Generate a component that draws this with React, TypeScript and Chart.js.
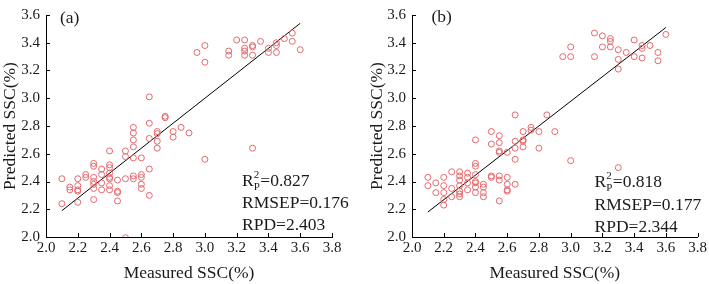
import React, { useEffect, useRef } from "react";
import { Chart, registerables } from "chart.js";

Chart.register(...registerables);

// ---------- data ----------
const xTicks = [2.0, 2.2, 2.4, 2.6, 2.8, 3.0, 3.2, 3.4, 3.6, 3.8];
const yTicks = [2.0, 2.2, 2.4, 2.6, 2.8, 3.0, 3.2, 3.4, 3.6];

const measuredA = [
  2.1, 2.1,
  2.15, 2.15,
  2.2, 2.2, 2.2, 2.2, 2.2,
  2.25, 2.25,
  2.3, 2.3, 2.3, 2.3, 2.3, 2.3, 2.3,
  2.35, 2.35, 2.35, 2.35,
  2.4, 2.4, 2.4, 2.4, 2.4, 2.4, 2.4, 2.4,
  2.45, 2.45, 2.45, 2.45,
  2.5, 2.5, 2.5, 2.5,
  2.55, 2.55, 2.55, 2.55, 2.55, 2.55, 2.55,
  2.6, 2.6, 2.6, 2.6, 2.6,
  2.65, 2.65, 2.65, 2.65, 2.65,
  2.7, 2.7, 2.7, 2.7,
  2.75, 2.75,
  2.8, 2.8,
  2.85,
  2.9,
  2.95,
  3.0, 3.0, 3.0,
  3.15, 3.15,
  3.2,
  3.25, 3.25, 3.25, 3.25,
  3.3, 3.3, 3.3, 3.3,
  3.35,
  3.4, 3.4,
  3.45, 3.45, 3.45,
  3.5,
  3.55, 3.55,
  3.6,
];
const predictedA = [
  2.42, 2.24,
  2.36, 2.34,
  2.42, 2.37, 2.34, 2.33, 2.25,
  2.45, 2.43,
  2.53, 2.51, 2.43, 2.4, 2.38, 2.35, 2.27,
  2.49, 2.45, 2.39, 2.34,
  2.62, 2.52, 2.5, 2.46, 2.43, 2.42, 2.37, 2.34,
  2.41, 2.33, 2.32, 2.26,
  2.62, 2.58, 2.42, 1.995,
  2.79, 2.75, 2.7, 2.65, 2.57, 2.44, 2.42,
  2.57, 2.45, 2.43, 2.38, 2.35,
  3.01, 2.82, 2.71, 2.49, 2.3,
  2.76, 2.745, 2.69, 2.64,
  2.87, 2.86,
  2.76, 2.72,
  2.79,
  2.75,
  3.33,
  3.38, 3.26, 2.56,
  3.34, 3.31,
  3.42,
  3.42, 3.36, 3.34, 3.31,
  3.38, 3.37, 3.31, 2.64,
  3.41,
  3.36, 3.33,
  3.4, 3.38, 3.33,
  3.43,
  3.47, 3.41,
  3.35,
];

const measuredB = [
  2.1, 2.1,
  2.15, 2.15,
  2.2, 2.2, 2.2, 2.2, 2.2,
  2.25, 2.25, 2.25,
  2.3, 2.3, 2.3, 2.3, 2.3, 2.3, 2.3,
  2.35, 2.35, 2.35, 2.35,
  2.4, 2.4, 2.4, 2.4, 2.4, 2.4, 2.4, 2.4,
  2.45, 2.45, 2.45, 2.45,
  2.5, 2.5, 2.5, 2.5,
  2.55, 2.55, 2.55, 2.55, 2.55, 2.55, 2.55,
  2.6, 2.6, 2.6, 2.6, 2.6,
  2.65, 2.65, 2.65, 2.65, 2.65,
  2.7, 2.7, 2.7, 2.7,
  2.75, 2.75,
  2.8, 2.8,
  2.85,
  2.9,
  2.95,
  3.0, 3.0, 3.0,
  3.15, 3.15,
  3.2, 3.2,
  3.25, 3.25, 3.25,
  3.3, 3.3, 3.3, 3.3,
  3.35,
  3.4, 3.4,
  3.45, 3.45, 3.45,
  3.5,
  3.55, 3.55,
  3.6,
];
const predictedB = [
  2.43, 2.37,
  2.39, 2.32,
  2.43, 2.37, 2.32, 2.27, 2.23,
  2.47, 2.35, 2.29,
  2.47, 2.44, 2.41, 2.37, 2.33, 2.31, 2.29,
  2.46, 2.43, 2.39, 2.34,
  2.7, 2.53, 2.51, 2.45, 2.4, 2.39, 2.36, 2.32,
  2.38, 2.36, 2.32, 2.29,
  2.76, 2.67, 2.44, 2.43,
  2.73, 2.68, 2.62, 2.61, 2.44, 2.41, 2.26,
  2.61, 2.43, 2.38, 2.34, 2.33,
  2.88, 2.69, 2.64, 2.56, 2.38,
  2.76, 2.7, 2.69, 2.65,
  2.79, 2.77,
  2.76, 2.64,
  2.88,
  2.76,
  3.3,
  3.37, 3.3, 2.55,
  3.47, 3.3,
  3.45, 3.37,
  3.43, 3.41, 3.37,
  3.35, 3.28, 3.21, 2.5,
  3.33,
  3.42, 3.3,
  3.38, 3.36, 3.29,
  3.38,
  3.33, 3.27,
  3.46,
];

const fitXA = [2.1, 3.6];
const fitYA = [2.19, 3.54];
const fitXB = [2.1, 3.6];
const fitYB = [2.18, 3.51];

const panelLabels = ["(a)", "(b)"];
const r2Values = ["0.827", "0.818"];
const rmsepValues = ["0.176", "0.177"];
const rpdValues = ["2.403", "2.344"];

const xTitle = "Measured SSC(%)";
const yTitle = "Predicted SSC(%)";

// ---------- styling ----------
const FONT = '"Times New Roman", "Liberation Serif", serif';
const POINT_COLOR = "rgb(228, 104, 108)";
const TEXT_COLOR = "#1a1a1a";

type Layout = {
  width: number;
  yWidth: number;
  padRight: number;
  yTitlePad: number;
  labelX: number;
  labelY: number;
  statsX: number;
  statsY: number[];
};

const layouts: Layout[] = [
  { width: 355, yWidth: 46, padRight: 23, yTitlePad: 0, labelX: 60, labelY: 18, statsX: 242, statsY: [186, 208, 230] },
  { width: 354, yWidth: 57, padRight: 11, yTitlePad: 11.5, labelX: 76.5, labelY: 17, statsX: 239.5, statsY: [187, 210, 232] },
];

function Panel(props: {
  idx: number;
  measured: number[];
  predicted: number[];
  fitX: number[];
  fitY: number[];
}) {
  const ref = useRef<HTMLCanvasElement | null>(null);
  const { idx, measured, predicted, fitX, fitY } = props;
  const lay = layouts[idx];

  useEffect(() => {
    if (!ref.current) return;

    const inwardTicks = {
      id: "inwardTicks" + idx,
      afterDatasetsDraw(chart: any) {
        const { ctx, chartArea } = chart;
        const x = chart.scales.x;
        const y = chart.scales.y;
        ctx.save();
        ctx.strokeStyle = "#000";
        ctx.lineWidth = 1;
        ctx.beginPath();
        xTicks.forEach((v) => {
          const px = Math.round(x.getPixelForValue(v)) + 0.5;
          ctx.moveTo(px, chartArea.bottom);
          ctx.lineTo(px, chartArea.bottom - 4);
        });
        yTicks.forEach((v) => {
          const py = Math.round(y.getPixelForValue(v)) + 0.5;
          ctx.moveTo(chartArea.left, py);
          ctx.lineTo(chartArea.left + 4, py);
        });
        ctx.stroke();
        ctx.restore();
      },
    };

    const annotations = {
      id: "annotations" + idx,
      afterDraw(chart: any) {
        const { ctx } = chart;
        ctx.save();
        ctx.fillStyle = TEXT_COLOR;
        ctx.textAlign = "left";
        ctx.font = `17.5px ${FONT}`;
        ctx.textBaseline = "middle";
        ctx.fillText(panelLabels[idx], lay.labelX, lay.labelY);

        ctx.textBaseline = "alphabetic";
        const sx = lay.statsX;
        const [b1, b2, b3] = lay.statsY;
        ctx.font = `17.5px ${FONT}`;
        ctx.fillText("R", sx, b1);
        const rw = ctx.measureText("R").width;
        ctx.font = `11px ${FONT}`;
        ctx.fillText("2", sx + rw, b1 - 8);
        ctx.fillText("P", sx + rw, b1 + 4);
        const sw = Math.max(ctx.measureText("2").width, ctx.measureText("P").width);
        ctx.font = `17.5px ${FONT}`;
        ctx.fillText("=" + r2Values[idx], sx + rw + sw + 0.5, b1);
        ctx.fillText("RMSEP=" + rmsepValues[idx], sx, b2);
        ctx.fillText("RPD=" + rpdValues[idx], sx, b3);
        ctx.restore();
      },
    };

    const chart = new Chart(ref.current, {
      type: "scatter",
      data: {
        datasets: [
          {
            data: measured.map((m, i) => ({ x: m, y: predicted[i] })),
            pointStyle: "circle",
            pointRadius: 3,
            pointBorderWidth: 1,
            pointBorderColor: POINT_COLOR,
            pointBackgroundColor: "rgba(0,0,0,0)",
            showLine: false,
          },
          {
            data: fitX.map((v, i) => ({ x: v, y: fitY[i] })),
            showLine: true,
            borderColor: "#000",
            borderWidth: 1,
            pointRadius: 0,
          },
        ],
      },
      options: {
        animation: false,
        responsive: false,
        maintainAspectRatio: false,
        devicePixelRatio: 1,
        layout: { padding: { top: 8, right: lay.padRight, bottom: 0, left: 0 } },
        plugins: {
          legend: { display: false },
          tooltip: { enabled: false },
        },
        scales: {
          x: {
            type: "linear",
            min: 2.0,
            max: 3.8,
            afterBuildTicks: (s: any) => {
              s.ticks = xTicks.map((v) => ({ value: v }));
            },
            afterFit: (s: any) => {
              s.height = 47;
            },
            grid: { display: false, drawTicks: false },
            border: { display: true, color: "#000", width: 1 },
            ticks: {
              padding: 2,
              color: TEXT_COLOR,
              font: { family: FONT, size: 15 },
              maxRotation: 0,
              autoSkip: false,
              callback: (v: any) => Number(v).toFixed(1),
            },
            title: {
              display: true,
              text: xTitle,
              color: TEXT_COLOR,
              font: { family: FONT, size: 17.5 },
              padding: { top: 0, bottom: 0 },
            },
          },
          y: {
            type: "linear",
            min: 2.0,
            max: 3.6,
            afterBuildTicks: (s: any) => {
              s.ticks = yTicks.map((v) => ({ value: v }));
            },
            afterFit: (s: any) => {
              s.width = lay.yWidth;
            },
            grid: { display: false, drawTicks: false },
            border: { display: true, color: "#000", width: 1 },
            ticks: {
              padding: 6,
              color: TEXT_COLOR,
              font: { family: FONT, size: 15 },
              autoSkip: false,
              callback: (v: any) => Number(v).toFixed(1),
            },
            title: {
              display: true,
              text: yTitle,
              color: TEXT_COLOR,
              font: { family: FONT, size: 17.5 },
              padding: { top: lay.yTitlePad, bottom: 0 },
            },
          },
        },
      },
      plugins: [inwardTicks, annotations],
    } as any);

    return () => chart.destroy();
  }, [idx, measured, predicted, fitX, fitY, lay]);

  return (
    <canvas
      ref={ref}
      width={lay.width}
      height={284}
      style={{ display: "block", width: lay.width, height: 284 }}
    />
  );
}

export default function App() {
  return (
    <div
      style={{
        position: "fixed",
        left: 0,
        top: 0,
        width: 709,
        height: 284,
        background: "#fff",
        display: "flex",
        flexDirection: "row",
      }}
    >
      <Panel idx={0} measured={measuredA} predicted={predictedA} fitX={fitXA} fitY={fitYA} />
      <Panel idx={1} measured={measuredB} predicted={predictedB} fitX={fitXB} fitY={fitYB} />
    </div>
  );
}
